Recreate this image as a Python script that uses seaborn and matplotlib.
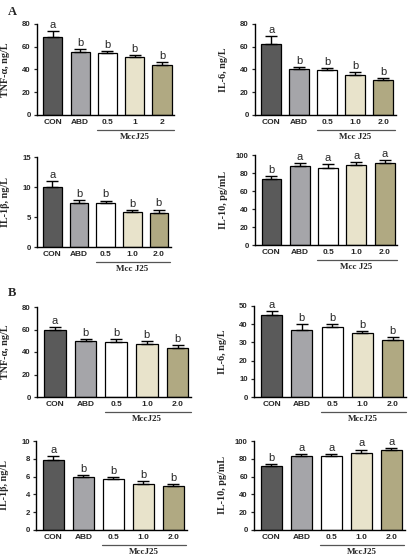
import matplotlib
matplotlib.use("Agg")
import matplotlib.pyplot as plt
import seaborn as sns
import pandas as pd

sns.set_style("ticks")

groups = ["CON", "ABD", "0.5", "1.0", "2.0"]
colors = ["#5a5a5a", "#a4a4aa", "#ffffff", "#ede6c6", "#b8ae7a"]

# panel A
tnf_a = [68.8, 55.0, 54.2, 50.7, 44.3]
tnf_a_err = [5.2, 2.7, 2.4, 2.3, 2.3]
il6_a = [62.0, 40.0, 39.8, 35.2, 30.9]
il6_a_err = [7.3, 2.0, 1.8, 2.3, 1.7]
il1b_a = [10.05, 7.3, 7.4, 5.8, 5.7]
il1b_a_err = [1.0, 0.5, 0.35, 0.35, 0.55]
il10_a = [73.7, 87.4, 86.0, 88.9, 91.5]
il10_a_err = [3.0, 3.3, 4.3, 3.0, 2.6]

# panel B
tnf_b = [59.9, 49.4, 48.9, 46.8, 43.6]
tnf_b_err = [2.3, 2.1, 2.6, 2.6, 2.6]
il6_b = [45.3, 37.0, 38.2, 34.9, 31.1]
il6_b_err = [1.7, 3.2, 1.8, 1.3, 1.6]
il1b_b = [7.84, 5.9, 5.68, 5.22, 4.96]
il1b_b_err = [0.42, 0.32, 0.25, 0.23, 0.25]
il10_b = [71.6, 83.0, 82.6, 86.4, 90.0]
il10_b_err = [3.0, 2.8, 3.0, 4.0, 2.4]

letters_down = ["a", "b", "b", "b", "b"]
letters_up = ["b", "a", "a", "a", "a"]

panels = [
    dict(vals=tnf_a, err=tnf_a_err, lab=letters_down, ylabel="TNF-α, ng/L",
         yticks=[0, 20, 40, 60, 80], xt=["CON", "ABD", "0.5", "1", "2"], grp="MccJ25",
         box=(37, 24, 27.3, 91)),
    dict(vals=il6_a, err=il6_a_err, lab=letters_down, ylabel="IL-6, ng/L",
         yticks=[0, 20, 40, 60, 80], xt=groups, grp="Mcc J25",
         box=(255, 24, 28.0, 91)),
    dict(vals=il1b_a, err=il1b_a_err, lab=letters_down, ylabel="IL-1β, ng/L",
         yticks=[0, 5, 10, 15], xt=groups, grp="Mcc J25",
         box=(37, 157, 26.6, 90)),
    dict(vals=il10_a, err=il10_a_err, lab=letters_up, ylabel="IL-10, pg/mL",
         yticks=[0, 20, 40, 60, 80, 100], xt=groups, grp="Mcc J25",
         box=(255, 155, 28.3, 90)),
    dict(vals=tnf_b, err=tnf_b_err, lab=letters_down, ylabel="TNF-α, ng/L",
         yticks=[0, 20, 40, 60, 80], xt=groups, grp="MccJ25",
         box=(37, 307, 30.7, 90)),
    dict(vals=il6_b, err=il6_b_err, lab=letters_down, ylabel="IL-6, ng/L",
         yticks=[0, 10, 20, 30, 40, 50], xt=groups, grp="MccJ25",
         box=(254, 306, 30.3, 91)),
    dict(vals=il1b_b, err=il1b_b_err, lab=letters_down, ylabel="IL-1β, ng/L",
         yticks=[0, 2, 4, 6, 8, 10], xt=groups, grp="MccJ25",
         box=(36, 441, 30.0, 89)),
    dict(vals=il10_b, err=il10_b_err, lab=letters_up, ylabel="IL-10, pg/mL",
         yticks=[0, 20, 40, 60, 80, 100], xt=groups, grp="MccJ25",
         box=(254, 441, 30.0, 89)),
]

W, H = 408, 560
fig = plt.figure(figsize=(W / 100, H / 100), dpi=100)
fig.patch.set_facecolor("white")

serif = "Liberation Serif"
sans = "Liberation Sans"

for p in panels:
    x0, ytop, step, hpx = p["box"]
    left_off = 0.58
    wpx = step * (left_off + 4 + 0.45)
    ax = fig.add_axes([x0 / W, 1 - (ytop + hpx) / H, wpx / W, hpx / H])
    df = pd.DataFrame({"group": groups, "value": p["vals"]})
    sns.barplot(data=df, x="group", y="value", hue="group", order=groups,
                palette=colors, edgecolor="black", linewidth=0.9, width=0.7,
                errorbar=None, legend=False, ax=ax)
    ax.errorbar(range(5), p["vals"], yerr=[[0] * 5, p["err"]], fmt="none",
                ecolor="black", elinewidth=1.0, capsize=4.5, capthick=1.0, zorder=3)
    ymax = p["yticks"][-1]
    for i, (v, e, t) in enumerate(zip(p["vals"], p["err"], p["lab"])):
        ax.text(i, v + e + ymax * 0.012, t, ha="center", va="bottom",
                fontsize=8, family=sans)
    ax.set_xlim(-left_off, 4.45)
    ax.set_ylim(0, ymax)
    ax.set_yticks(p["yticks"])
    ax.set_xticks(range(5))
    ax.set_xticklabels(p["xt"], fontsize=6, fontweight="bold", family=sans)
    ax.set_yticklabels([str(t) for t in p["yticks"]], fontsize=5.6,
                       fontweight="bold", family=sans)
    ax.tick_params(axis="x", length=0, pad=3)
    ax.tick_params(axis="y", length=2.5, width=0.9, pad=2)
    ax.set_xlabel("")
    ax.set_ylabel(p["ylabel"], fontsize=7.3, fontweight="bold", family=serif)
    ax.yaxis.set_label_coords(-27 / wpx, 0.5)
    sns.despine(ax=ax)
    for s in ["left", "bottom"]:
        ax.spines[s].set_linewidth(1.0)
        ax.spines[s].set_color("black")
    tr = ax.get_xaxis_transform()
    ax.plot([1.62, 4.42], [-15 / hpx, -15 / hpx], color="#555555", lw=0.9,
            transform=tr, clip_on=False)
    ax.text(3.0, -22 / hpx, p["grp"], transform=tr, ha="center", va="center",
            fontsize=6.5, fontweight="bold", family=serif)

fig.text(8 / W, 1 - 12 / H, "A", fontsize=9, fontweight="bold", family=serif,
         va="center")
fig.text(8 / W, 1 - 293 / H, "B", fontsize=9, fontweight="bold", family=serif,
         va="center")

fig.savefig("out.png", dpi=100, facecolor="white")
